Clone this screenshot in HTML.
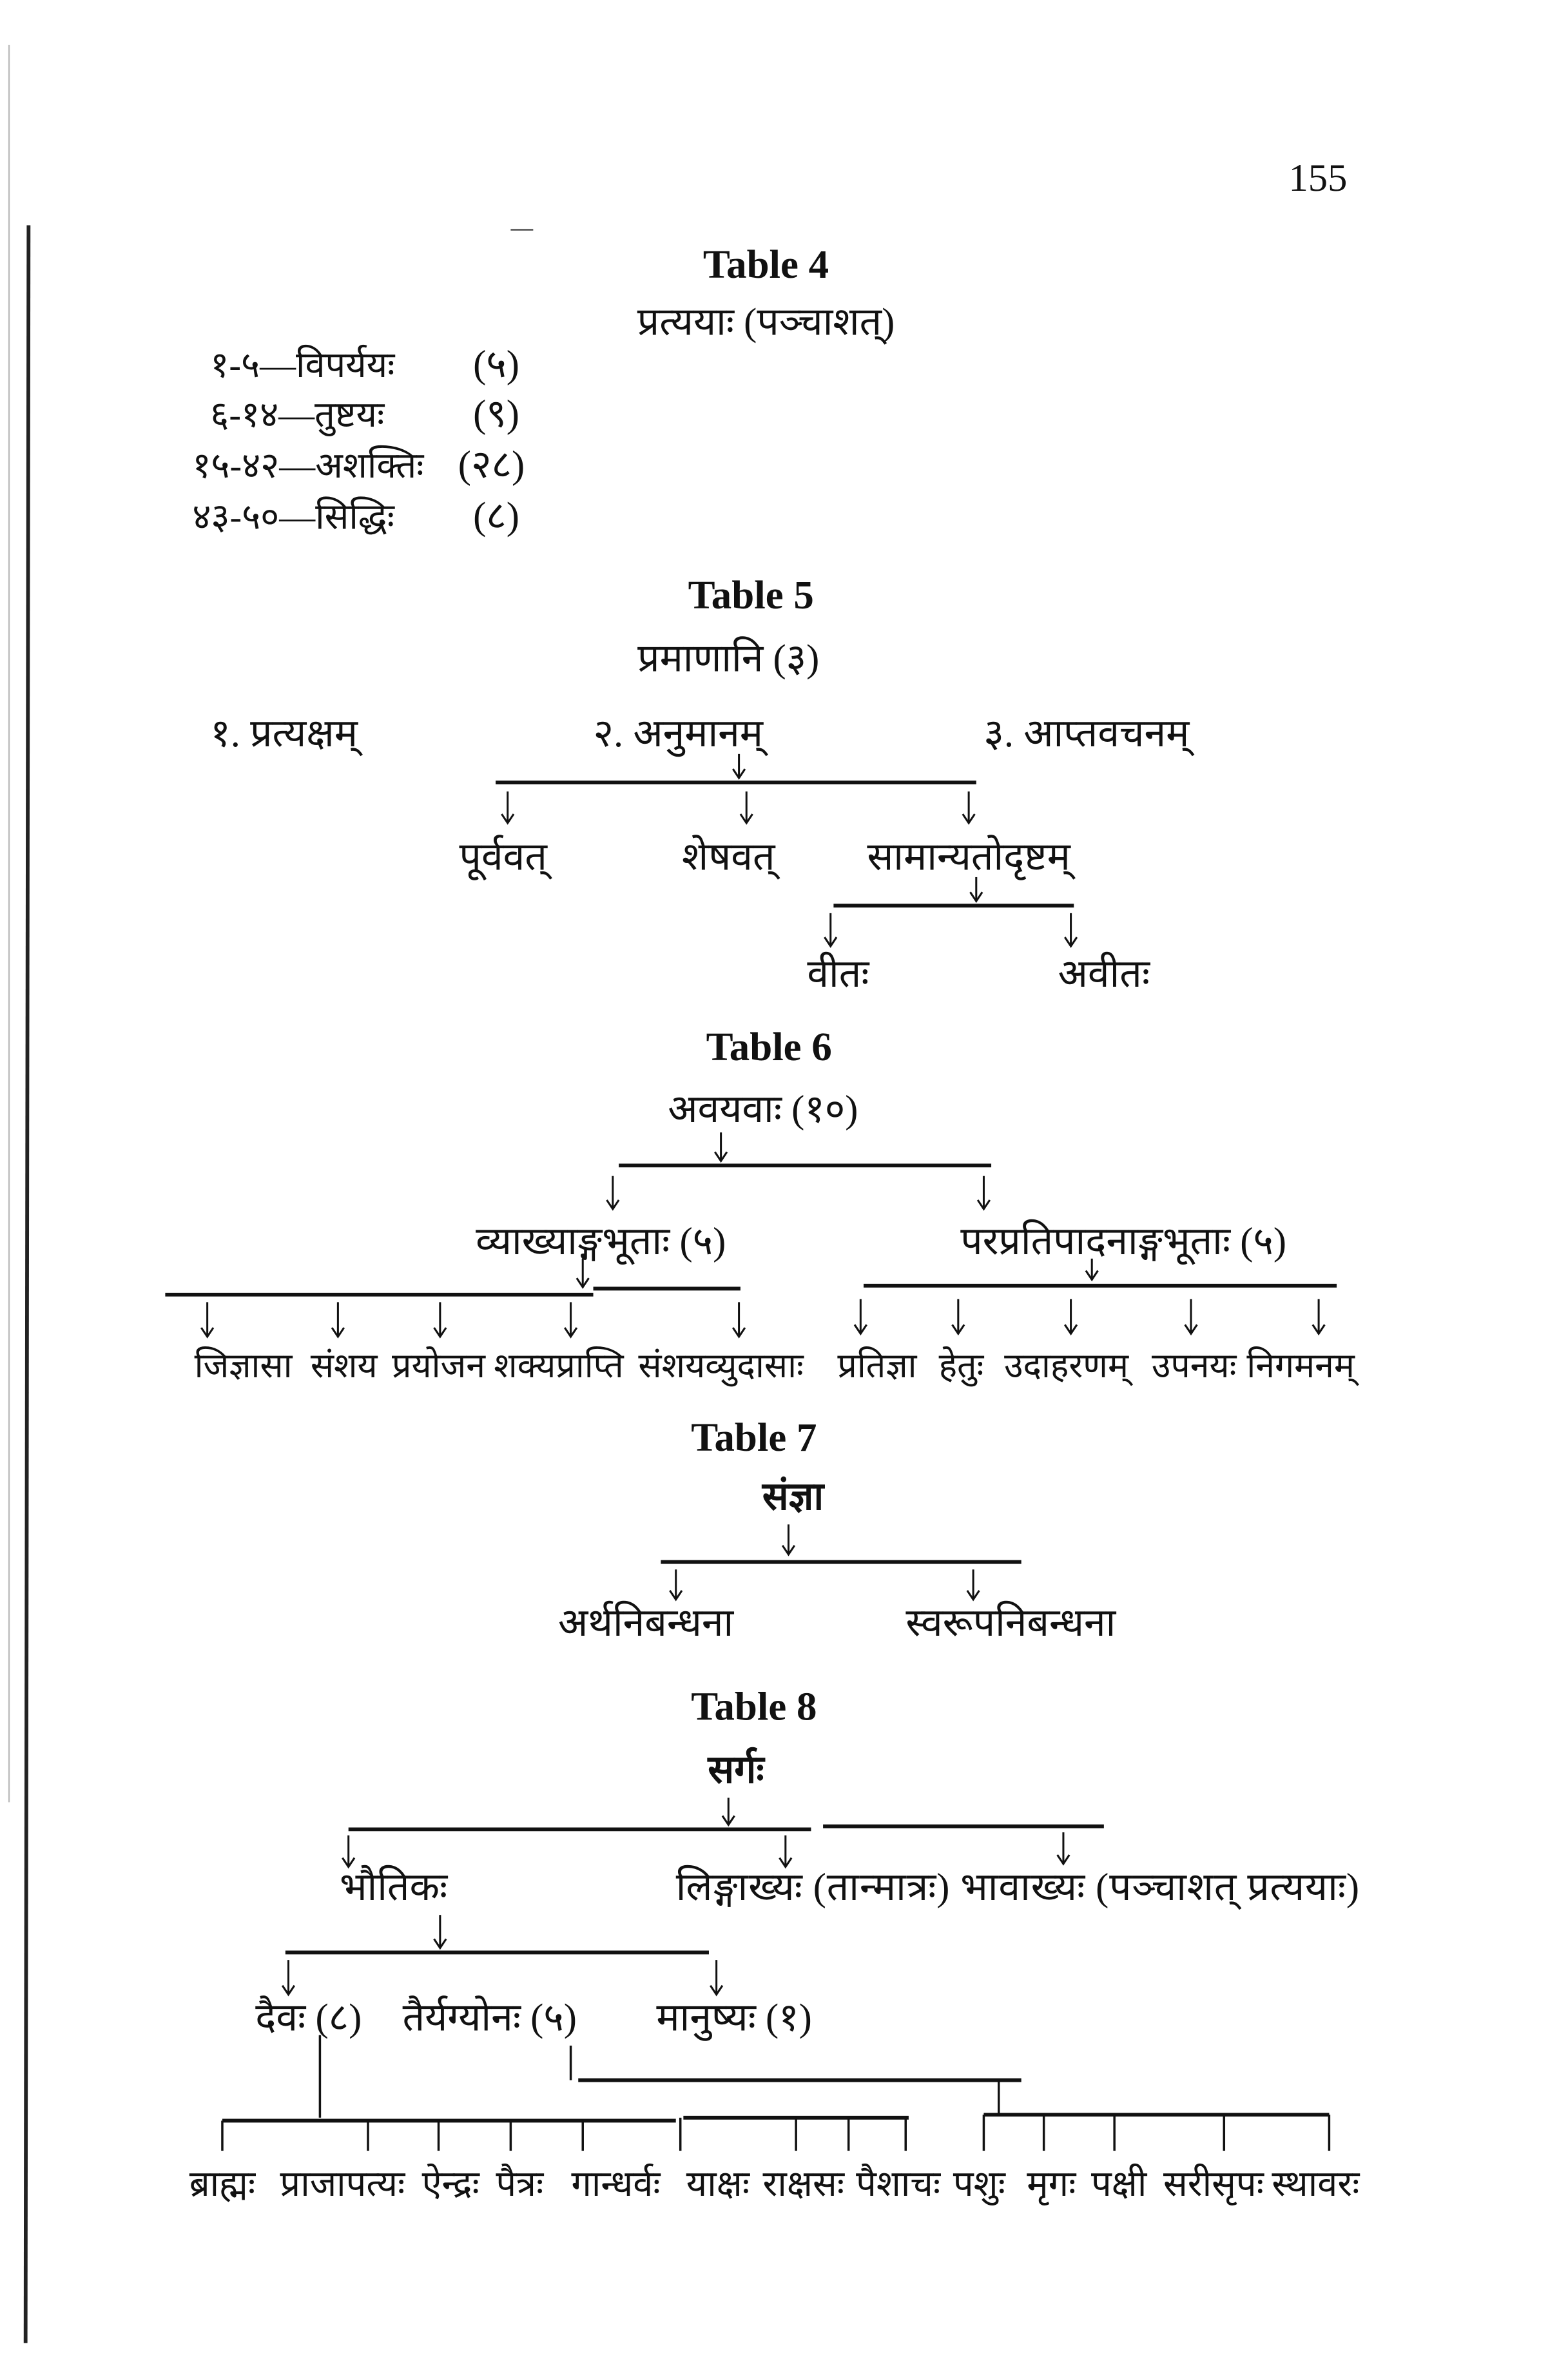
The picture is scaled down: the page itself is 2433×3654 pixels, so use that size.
<!DOCTYPE html>
<html><head><meta charset="utf-8"><style>
html,body{margin:0;padding:0;background:#fff}
svg{display:block}
text{font-family:"Liberation Serif","DejaVu Serif",serif;fill:#111}
.t{font-weight:bold;font-size:27px}
.d{font-size:26px}
.s{font-size:24px}
.s2{font-size:23px}
</style></head><body>
<svg width="2433" height="3654" viewBox="0 0 1044 1568" xmlns="http://www.w3.org/2000/svg">
<defs><marker id="a" markerWidth="10" markerHeight="10" refX="5" refY="8" orient="0" markerUnits="userSpaceOnUse"><path d="M1,2 L5,8 L9,2" fill="none" stroke="#111" stroke-width="1.3"/></marker></defs>
<rect width="1044" height="1568" fill="#fff"/>
<line x1="19" y1="150" x2="17" y2="1560" stroke="#222" stroke-width="2.5"/>
<line x1="6" y1="30" x2="6" y2="1200" stroke="#bbb" stroke-width="1"/>
<text x="858" y="127" class="d">155</text>
<line x1="340" y1="153" x2="355" y2="153" stroke="#444"/>

<text x="510" y="185" class="t" text-anchor="middle">Table 4</text>
<text x="510" y="223" class="d" text-anchor="middle">प्रत्ययाः (पञ्चाशत्)</text>
<text x="140" y="251" class="s">१-५—विपर्ययः</text><text x="315" y="251" class="d">(५)</text>
<text x="140" y="284" class="s">६-१४—तुष्टयः</text><text x="315" y="284" class="d">(९)</text>
<text x="128" y="318" class="s">१५-४२—अशक्तिः</text><text x="305" y="318" class="d">(२८)</text>
<text x="128" y="352" class="s">४३-५०—सिद्धिः</text><text x="315" y="352" class="d">(८)</text>

<text x="500" y="405" class="t" text-anchor="middle">Table 5</text>
<text x="485" y="447" class="d" text-anchor="middle">प्रमाणानि (३)</text>
<text x="140" y="497" class="d">१.  प्रत्यक्षम्</text>
<text x="395" y="497" class="d">२.  अनुमानम्</text>
<text x="655" y="497" class="d">३.  आप्तवचनम्</text>
<g stroke="#111" stroke-width="1.3" fill="none" marker-end="url(#a)">
<line x1="492" y1="502" x2="492" y2="518"/>
<line x1="338" y1="527" x2="338" y2="548"/>
<line x1="497" y1="527" x2="497" y2="548"/>
<line x1="645" y1="527" x2="645" y2="548"/>
<line x1="650" y1="584" x2="650" y2="600"/>
<line x1="553" y1="608" x2="553" y2="630"/>
<line x1="713" y1="608" x2="713" y2="630"/>
</g>
<line x1="330" y1="521" x2="650" y2="521" stroke="#111" stroke-width="2.5"/>
<line x1="555" y1="603" x2="715" y2="603" stroke="#111" stroke-width="2.5"/>
<text x="335" y="579" class="d" text-anchor="middle">पूर्ववत्</text>
<text x="485" y="579" class="d" text-anchor="middle">शेषवत्</text>
<text x="645" y="579" class="d" text-anchor="middle">सामान्यतोदृष्टम्</text>
<text x="558" y="657" class="d" text-anchor="middle">वीतः</text>
<text x="735" y="657" class="d" text-anchor="middle">अवीतः</text>

<text x="512" y="706" class="t" text-anchor="middle">Table 6</text>
<text x="508" y="747" class="d" text-anchor="middle">अवयवाः (१०)</text>
<g stroke="#111" stroke-width="1.3" fill="none" marker-end="url(#a)">
<line x1="480" y1="754" x2="480" y2="773"/>
<line x1="408" y1="783" x2="408" y2="805"/>
<line x1="655" y1="783" x2="655" y2="805"/>
<line x1="388" y1="838" x2="388" y2="857"/>
<line x1="727" y1="838" x2="727" y2="852"/>
<line x1="138" y1="867" x2="138" y2="890"/>
<line x1="225" y1="867" x2="225" y2="890"/>
<line x1="293" y1="867" x2="293" y2="890"/>
<line x1="380" y1="867" x2="380" y2="890"/>
<line x1="492" y1="867" x2="492" y2="890"/>
<line x1="573" y1="865" x2="573" y2="888"/>
<line x1="638" y1="865" x2="638" y2="888"/>
<line x1="713" y1="865" x2="713" y2="888"/>
<line x1="793" y1="865" x2="793" y2="888"/>
<line x1="878" y1="865" x2="878" y2="888"/>
</g>
<g stroke="#111" stroke-width="2.5">
<line x1="412" y1="776" x2="660" y2="776"/>
<line x1="110" y1="862" x2="395" y2="862"/>
<line x1="395" y1="858" x2="493" y2="858"/>
<line x1="575" y1="856" x2="890" y2="856"/>
</g>
<text x="400" y="835" class="d" text-anchor="middle">व्याख्याङ्गभूताः (५)</text>
<text x="748" y="835" class="d" text-anchor="middle">परप्रतिपादनाङ्गभूताः (५)</text>
<text x="162" y="917" class="s2" text-anchor="middle">जिज्ञासा</text>
<text x="229" y="917" class="s2" text-anchor="middle">संशय</text>
<text x="292" y="917" class="s2" text-anchor="middle">प्रयोजन</text>
<text x="372" y="917" class="s2" text-anchor="middle">शक्यप्राप्ति</text>
<text x="480" y="917" class="s2" text-anchor="middle">संशयव्युदासाः</text>
<text x="584" y="917" class="s2" text-anchor="middle">प्रतिज्ञा</text>
<text x="640" y="917" class="s2" text-anchor="middle">हेतुः</text>
<text x="710" y="917" class="s2" text-anchor="middle">उदाहरणम्</text>
<text x="795" y="917" class="s2" text-anchor="middle">उपनयः</text>
<text x="866" y="917" class="s2" text-anchor="middle">निगमनम्</text>

<text x="502" y="966" class="t" text-anchor="middle">Table 7</text>
<text x="528" y="1005" class="d" text-anchor="middle" font-weight="bold">संज्ञा</text>
<g stroke="#111" stroke-width="1.3" fill="none" marker-end="url(#a)">
<line x1="525" y1="1015" x2="525" y2="1035"/>
<line x1="450" y1="1045" x2="450" y2="1065"/>
<line x1="648" y1="1045" x2="648" y2="1065"/>
</g>
<line x1="440" y1="1040" x2="680" y2="1040" stroke="#111" stroke-width="2.5"/>
<text x="430" y="1089" class="d" text-anchor="middle">अर्थनिबन्धना</text>
<text x="673" y="1089" class="d" text-anchor="middle">स्वरूपनिबन्धना</text>

<text x="502" y="1145" class="t" text-anchor="middle">Table 8</text>
<text x="490" y="1187" class="d" text-anchor="middle" font-weight="bold">सर्गः</text>
<g stroke="#111" stroke-width="1.3" fill="none" marker-end="url(#a)">
<line x1="485" y1="1197" x2="485" y2="1215"/>
<line x1="232" y1="1222" x2="232" y2="1243"/>
<line x1="523" y1="1222" x2="523" y2="1243"/>
<line x1="708" y1="1220" x2="708" y2="1241"/>
<line x1="293" y1="1275" x2="293" y2="1297"/>
<line x1="192" y1="1305" x2="192" y2="1328"/>
<line x1="477" y1="1305" x2="477" y2="1328"/>
</g>
<g stroke="#111" stroke-width="2.5">
<line x1="232" y1="1218" x2="540" y2="1218"/>
<line x1="548" y1="1216" x2="735" y2="1216"/>
<line x1="190" y1="1300" x2="472" y2="1300"/>
<line x1="385" y1="1385" x2="680" y2="1385"/>
<line x1="148" y1="1412" x2="450" y2="1412"/>
<line x1="455" y1="1410" x2="605" y2="1410"/>
<line x1="655" y1="1408" x2="885" y2="1408"/>
</g>
<g stroke="#111" stroke-width="1.5">
<line x1="213" y1="1355" x2="213" y2="1410"/>
<line x1="380" y1="1362" x2="380" y2="1385"/>
<line x1="665" y1="1385" x2="665" y2="1408"/>
<line x1="148" y1="1412" x2="148" y2="1432"/>
<line x1="245" y1="1412" x2="245" y2="1432"/>
<line x1="292" y1="1412" x2="292" y2="1432"/>
<line x1="340" y1="1412" x2="340" y2="1432"/>
<line x1="388" y1="1412" x2="388" y2="1432"/>
<line x1="453" y1="1410" x2="453" y2="1432"/>
<line x1="530" y1="1410" x2="530" y2="1432"/>
<line x1="565" y1="1410" x2="565" y2="1432"/>
<line x1="603" y1="1410" x2="603" y2="1432"/>
<line x1="655" y1="1408" x2="655" y2="1432"/>
<line x1="695" y1="1408" x2="695" y2="1432"/>
<line x1="742" y1="1408" x2="742" y2="1432"/>
<line x1="815" y1="1408" x2="815" y2="1432"/>
<line x1="885" y1="1408" x2="885" y2="1432"/>
</g>
<text x="262" y="1265" class="d" text-anchor="middle">भौतिकः</text>
<text x="450" y="1265" class="d" textLength="455" lengthAdjust="spacing">लिङ्गाख्यः (तान्मात्रः) भावाख्यः (पञ्चाशत् प्रत्ययाः)</text>
<text x="170" y="1352" class="d">दैवः (८)</text>
<text x="268" y="1352" class="d">तैर्यग्योनः (५)</text>
<text x="437" y="1352" class="d">मानुष्यः (१)</text>
<text x="148" y="1462" class="s" text-anchor="middle">ब्राह्मः</text>
<text x="228" y="1462" class="s" text-anchor="middle">प्राजापत्यः</text>
<text x="300" y="1462" class="s" text-anchor="middle">ऐन्द्रः</text>
<text x="346" y="1462" class="s" text-anchor="middle">पैत्रः</text>
<text x="410" y="1462" class="s" text-anchor="middle">गान्धर्वः</text>
<text x="478" y="1462" class="s" text-anchor="middle">याक्षः</text>
<text x="535" y="1462" class="s" text-anchor="middle">राक्षसः</text>
<text x="598" y="1462" class="s" text-anchor="middle">पैशाचः</text>
<text x="652" y="1462" class="s" text-anchor="middle">पशुः</text>
<text x="700" y="1462" class="s" text-anchor="middle">मृगः</text>
<text x="745" y="1462" class="s" text-anchor="middle">पक्षी</text>
<text x="808" y="1462" class="s" text-anchor="middle">सरीसृपः</text>
<text x="876" y="1462" class="s" text-anchor="middle">स्थावरः</text>
</svg>
</body></html>
